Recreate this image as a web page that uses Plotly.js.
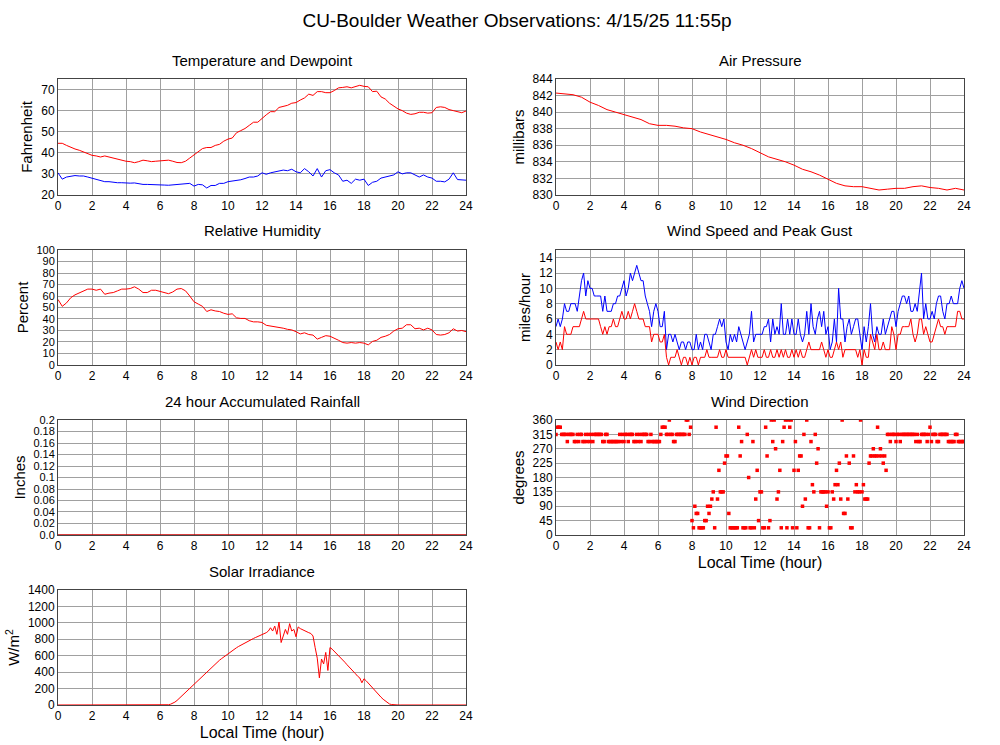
<!DOCTYPE html>
<html>
<head>
<meta charset="utf-8">
<script src="https://cdn.plot.ly/plotly-3.0.1.min.js"></script>
<style>html,body{margin:0;padding:0;background:#fff;}#chart{width:1000px;height:745px;}</style>
</head>
<body>
<div id="chart"></div>
<script>
// ---- Data ----
var chartTitle = "CU-Boulder Weather Observations: 4/15/25 11:55p";
var hourTicks = [0,2,4,6,8,10,12,14,16,18,20,22,24];

// Temperature and dewpoint, every 0.25 h
var temperature = [
 44.5,44.5,43.5,42.5, 41.8,41.2,40.5,39.5, 38.8,38.5,38,38.5, 38,37.5,36.8,36.2,
 36,35.8,35.3,35.8, 36.5,36.2,35.8,36, 36.2,36.3,36.5,36, 35.4,35.3,36,37.5,
 39,40.8,42,42.5, 42.5,43.5,44,45.5, 46.5,47,49.5,50.5, 51.5,53,54.5,54.5,
 56.5,58,59.5,59.5, 61.5,62,62.5,63.5, 63.8,65,66,67.8, 67.2,69,69,68.5,
 68.5,69.5,70.8,71, 71.3,70.8,71.5,72, 71.5,71.3,69,69.2, 66.5,65.5,63.5,62,
 60.8,60,58.8,58.2, 58.5,59.2,59.2,58.8, 59,61.5,61.8,61.5, 60.5,60,59.5,59, 59.8];
var dewpoint = [
 30.5,27.5,28.5,29, 29.2,29,29,28.5, 28,27.5,27,26.3, 26.3,26,25.8,25.8,
 25.6,25.6,25.7,25.3, 25,25,25,25, 25,24.7,24.6,24.8, 25,25.2,25.2,25.5,
 24.2,25,24.8,23.3, 24.5,24.5,25.5,25.5, 26.3,26.5,27,27.2, 27.8,28.5,28.5,29,
 30.5,29.8,30.5,31, 31.5,31.8,31.5,32.2, 31,30.5,32.5,31, 29,32.5,28.5,31.5,
 32,30.5,29.5,26.5, 27,25.5,27.5,27, 27.5,24.5,26,26.5, 28,28.5,29,29.5,
 31,30,30.5,30.5, 29.5,28.5,29.5,28.5, 28,26.5,26.5,26.2, 27.5,30.5,27.3,27.3, 27];

// Air pressure, every 0.5 h
var pressure = [
 842.3,842.2,842.1,841.8,841.2,840.8,840.3,840.0,839.7,839.4,839.1,838.6,
 838.4,838.4,838.3,838.1,838.0,837.6,837.3,837.0,836.7,836.3,836.0,835.6,
 835.1,834.6,834.3,834.0,833.6,833.1,832.8,832.4,831.9,831.4,831.1,831.0,
 831.0,830.8,830.6,830.7,830.8,830.8,831.0,831.1,830.9,830.8,830.6,830.8,830.6];

// Relative humidity, every 0.25 h
var humidity = [
 57,51,54,58.5, 61,62.5,64,66, 66,65,66,61.5, 62.5,63,64.5,66,
 66,66.5,68,66, 63,63,65,65, 64,63,62,63.5, 66,66.5,64.5,60,
 55,53,51,46.5, 48,47,46.5,45, 44,44.5,41,40.5, 40.5,38.5,37.5,37.5,
 37,34.5,34,33.5, 33,32,31,30.5, 29,27,28,26.5, 26,22.5,24,25.5,
 25,23.5,21.5,19.5, 19,19.5,19,19.5, 19,17.5,20.5,21.5, 24,25,26.5,29.5,
 31.5,32,35,35, 31.5,32,30.5,32, 30.5,26.5,26,26.5, 28,31.5,29.5,30, 29];

// Wind speed and peak gust, every 0.125 h
var windGust = [
 5,6,5,6,8,7,7,8, 8,8,7,9,11,12,9,11, 10,10,9,9,9,9,7,9, 7,7,7,8,8,9,9,10,
 11,9,10,12,11,12,13,12, 11,11,9,8,7,5,7,8, 7,5,5,7,2,4,4,3, 4,3,2,3,3,2,3,3,
 2,2,4,2,3,2,4,4, 3,2,4,4,5,6,5,6, 3,2,4,3,4,3,5,4, 3,2,3,4,7,3,4,4,
 4,4,5,5,6,3,6,4, 5,4,8,4,4,6,4,6, 4,4,6,4,3,4,7,4, 8,5,4,6,7,5,7,4,
 5,2,3,6,3,10,6,6, 3,5,6,4,5,6,6,4, 2,5,3,5,8,4,3,5, 4,4,6,4,5,6,7,7,
 5,7,8,9,9,8,9,7, 7,8,7,10,12,6,8,6, 6,7,6,8,9,9,7,6, 8,8,9,8,8,8,10,11, 10];
var windSpeed = [
 3,2,3,2,5,4,4,4, 5,5,5,5,6,7,6,6, 6,6,6,6,6,5,4,5, 4,5,5,6,5,5,6,7,
 6,6,7,6,7,8,7,6, 6,6,5,5,5,3,4,4, 4,3,3,4,1,0,1,1, 1,2,1,0,1,1,0,1,
 0,1,1,0,1,1,1,2, 1,1,1,1,1,2,1,1, 2,1,1,1,1,1,1,1, 1,1,0,1,2,1,2,1,
 1,1,2,1,1,2,1,1, 2,1,2,1,2,1,1,2, 1,2,1,2,1,1,2,3, 2,2,2,2,2,3,2,1,
 2,1,1,2,3,2,3,1, 2,2,2,2,2,2,1,2, 0,2,1,1,4,3,2,4, 2,2,3,2,2,2,5,4,
 2,4,4,5,5,5,5,6, 4,3,4,6,6,4,5,4, 3,3,4,5,6,5,5,4, 5,5,5,5,5,7,7,6, 6];

// Wind direction, every 5 minutes
var windDir = [
 315,337.5,337.5,337.5,315,315,315,315,292.5,315,315,315,
 315,292.5,292.5,315,292.5,315,315,292.5,292.5,315,292.5,315,
 292.5,315,292.5,315,315,315,315,315,315,292.5,292.5,315,
 315,292.5,292.5,292.5,292.5,292.5,292.5,292.5,292.5,315,292.5,315,
 292.5,315,315,292.5,315,315,315,292.5,292.5,315,292.5,315,
 292.5,315,315,315,315,292.5,292.5,315,292.5,292.5,292.5,292.5,
 292.5,292.5,315,337.5,337.5,337.5,315,315,360,315,315,292.5,
 292.5,315,315,315,315,315,315,315,360,360,315,337.5,
 45,22.5,90,67.5,67.5,22.5,22.5,22.5,22.5,45,45,90,
 67.5,90,112.5,135,22.5,337.5,112.5,202.5,135,135,135,225,
 247.5,247.5,67.5,22.5,22.5,22.5,22.5,22.5,22.5,337.5,247.5,292.5,
 22.5,22.5,22.5,315,180,22.5,22.5,292.5,22.5,112.5,202.5,45,
 135,135,22.5,22.5,337.5,247.5,22.5,45,360,292.5,360,270,
 112.5,135,202.5,22.5,292.5,337.5,360,22.5,360,337.5,360,22.5,
 202.5,292.5,22.5,202.5,247.5,247.5,90,315,112.5,360,22.5,22.5,
 292.5,157.5,135,315,225,270,22.5,135,135,135,135,90,
 135,22.5,22.5,135,112.5,157.5,202.5,157.5,225,112.5,360,67.5,
 67.5,247.5,112.5,225,22.5,22.5,247.5,135,157.5,135,135,360,
 135,157.5,112.5,112.5,112.5,225,247.5,247.5,270,247.5,247.5,337.5,
 247.5,270,247.5,225,247.5,202.5,315,315,292.5,315,315,315,
 292.5,315,315,292.5,315,315,315,315,315,315,315,315,
 315,315,292.5,315,292.5,292.5,315,315,315,315,292.5,315,
 337.5,292.5,315,315,315,292.5,292.5,315,315,315,315,315,
 315,292.5,292.5,292.5,292.5,292.5,315,315,292.5,292.5,292.5,292.5,
 292.5];

// 24 hour accumulated rainfall, hourly
var rainfall = [0,0,0,0,0,0,0,0,0,0,0,0,0,0,0,0,0,0,0,0,0,0,0,0,0];
var rainTickVals = [0,0.02,0.04,0.06,0.08,0.1,0.12,0.14,0.16,0.18,0.2];
var rainTickText = ["0.0","0.02","0.04","0.06","0.08","0.1","0.12","0.14","0.16","0.18","0.2"];

// Solar irradiance, every 0.125 h
var solar = [
 0,0,0,0,0,0,0,0, 0,0,0,0,0,0,0,0, 0,0,0,0,0,0,0,0, 0,0,0,0,0,0,0,0,
 0,0,0,0,0,0,0,0, 0,0,0,0,0,0,0,0, 0,0,0,0,3,10,20,35,
 55,80,105,130,155,180,205,230, 255,280,305,330,355,380,405,430,
 455,478,500,522,545,565,585,605, 625,645,663,680,697,713,728,743,
 758,772,785,798,810,822,833,845, 856,868,880,900,940,900,960,860,
 1010,760,830,920,860,990,900,920, 830,950,930,915,900,890,880,870,
 840,700,570,330,560,500,640,420, 700,680,655,630,600,575,550,520,
 490,465,440,410,380,350,330,270, 320,295,265,235,205,175,145,120,
 95,70,48,25,12,6,2,0, 0,0,0,0,0,0,0,0, 0,0,0,0,0,0,0,0,
 0,0,0,0,0,0,0,0, 0,0,0,0,0,0,0,0, 0];

// ---- Build ----
function grid(arr, step){ var t=[]; for(var i=0;i<arr.length;i++){ t.push(i*step); } return t; }

var RED = '#ff0000', BLUE = '#0000ff';
var FONT = 'Liberation Sans, Arial, Helvetica, sans-serif';

var traces = [
 {x: grid(temperature,0.25), y: temperature, xaxis:'x', yaxis:'y', mode:'lines', line:{color:RED,width:1}},
 {x: grid(dewpoint,0.25), y: dewpoint, xaxis:'x', yaxis:'y', mode:'lines', line:{color:BLUE,width:1}},
 {x: grid(pressure,0.5), y: pressure, xaxis:'x2', yaxis:'y2', mode:'lines', line:{color:RED,width:1}},
 {x: grid(humidity,0.25), y: humidity, xaxis:'x3', yaxis:'y3', mode:'lines', line:{color:RED,width:1}},
 {x: grid(windGust,0.125), y: windGust, xaxis:'x4', yaxis:'y4', mode:'lines', line:{color:BLUE,width:1}},
 {x: grid(windSpeed,0.125), y: windSpeed, xaxis:'x4', yaxis:'y4', mode:'lines', line:{color:RED,width:1}},
 {x: grid(rainfall,1), y: rainfall, xaxis:'x5', yaxis:'y5', mode:'lines', line:{color:'#cc0000',width:1.5}},
 {x: grid(windDir,1/12), y: windDir, xaxis:'x6', yaxis:'y6', mode:'markers', marker:{color:RED,size:3.5,symbol:'square'}},
 {x: grid(solar,0.125), y: solar, xaxis:'x7', yaxis:'y7', mode:'lines', line:{color:RED,width:1}}
];

var L = [0.058,0.466], R = [0.556,0.964];
var rows = [[0.7383,0.894],[0.5101,0.6644],[0.2819,0.4362],[0.0537,0.2081]];

function xax(dom, anchor, title){
  var a = {domain:dom, anchor:anchor, range:[0,24], tickvals:hourTicks, ticks:'',
    showgrid:true, gridcolor:'#a0a0a0', gridwidth:1, zeroline:false,
    showline:true, mirror:true, linecolor:'#444', linewidth:1,
    tickfont:{family:FONT,size:12,color:'#000'}, fixedrange:true};
  if(title){ a.title = {text:title, font:{family:FONT,size:16,color:'#000'}, standoff:4}; }
  return a;
}
function yax(dom, anchor, range, title, extra, fs){
  var a = {domain:dom, anchor:anchor, range:range, ticks:'',
    showgrid:true, gridcolor:'#a0a0a0', gridwidth:1, zeroline:false,
    showline:true, mirror:true, linecolor:'#444', linewidth:1,
    tickfont:{family:FONT,size:fs||12,color:'#000'},
    title:{text:title, font:{family:FONT,size:15,color:'#000'}, standoff:4}, fixedrange:true};
  for(var k in extra){ a[k]=extra[k]; }
  return a;
}

function subTitle(text, xc, yc){
  return {text:text, x:xc, y:yc, xref:'paper', yref:'paper', showarrow:false,
    xanchor:'center', yanchor:'middle', font:{family:FONT,size:15,color:'#000'}};
}

var layout = {
  width:1000, height:745, showlegend:false,
  paper_bgcolor:'#fff', plot_bgcolor:'#fff',
  margin:{l:0,r:0,t:0,b:0},
  title:{text:chartTitle, x:0.517, xanchor:'center', y:1-20/745, yanchor:'middle', font:{family:FONT,size:19,color:'#000'}},
  xaxis: xax(L,'y'), yaxis: yax(rows[0],'x',[20,75],'Fahrenheit',{tickvals:[20,30,40,50,60,70]}),
  xaxis2: xax(R,'y2'), yaxis2: yax(rows[0],'x2',[830,844],'millibars',{dtick:2,tick0:830}),
  xaxis3: xax(L,'y3'), yaxis3: yax(rows[1],'x3',[0,100],'Percent',{dtick:10,tick0:0},11),
  xaxis4: xax(R,'y4'), yaxis4: yax(rows[1],'x4',[0,15],'miles/hour',{tickvals:[0,2,4,6,8,10,12,14]}),
  xaxis5: xax(L,'y5'), yaxis5: yax(rows[2],'x5',[0,0.2],'Inches',{tickvals:rainTickVals,ticktext:rainTickText},11),
  xaxis6: xax(R,'y6','Local Time (hour)'), yaxis6: yax(rows[2],'x6',[0,360],'degrees',{dtick:45,tick0:0}),
  xaxis7: xax(L,'y7','Local Time (hour)'), yaxis7: yax(rows[3],'x7',[0,1400],'W/m<sup>2</sup>',{dtick:200,tick0:0}),
  annotations: [
    subTitle('Temperature and Dewpoint', 0.262, 1-61/745),
    subTitle('Air Pressure', 0.760, 1-61/745),
    subTitle('Relative Humidity', 0.262, 1-231/745),
    subTitle('Wind Speed and Peak Gust', 0.760, 1-231/745),
    subTitle('24 hour Accumulated Rainfall', 0.262, 1-401/745),
    subTitle('Wind Direction', 0.760, 1-401/745),
    subTitle('Solar Irradiance', 0.262, 1-571/745)
  ]
};

Plotly.newPlot('chart', traces, layout, {displayModeBar:false, staticPlot:true});
</script>
</body>
</html>
